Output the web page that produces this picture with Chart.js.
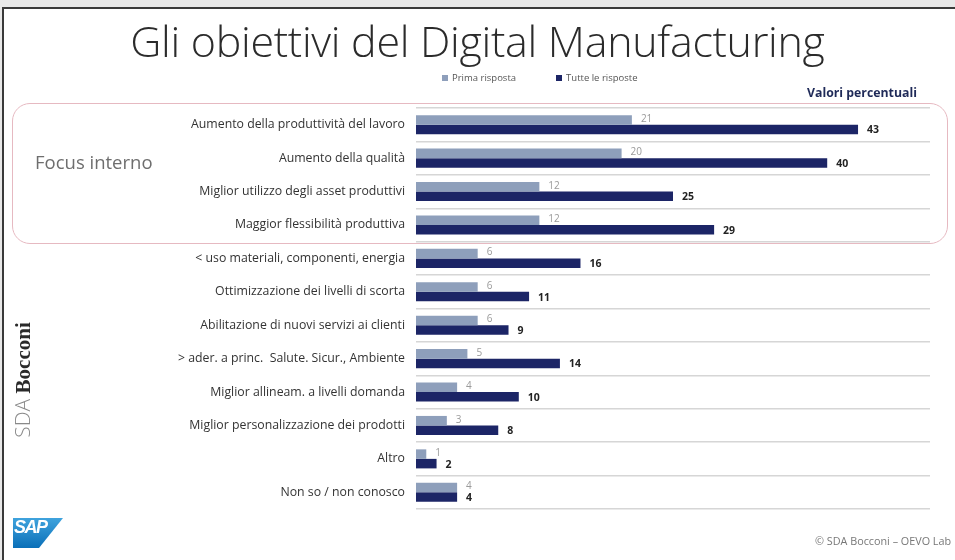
<!DOCTYPE html>
<html>
<head>
<meta charset="utf-8">
<script src="https://cdn.jsdelivr.net/npm/chart.js@4/dist/chart.umd.min.js"></script>
<style>
  html, body { margin: 0; padding: 0; }
  body { width: 955px; height: 560px; background: #e8e8e8; position: relative; overflow: hidden; font-family: 'Open Sans', sans-serif; }
  #frame { position: absolute; left: 2px; top: 7px; right: 0; bottom: 0; background: #fff; border-left: 2px solid #3a3a3a; border-top: 2px solid #3a3a3a; }
  #c { position: absolute; left: 0; top: 0; }
  .t { position: absolute; white-space: nowrap; }
  #title { left: 0; width: 955px; text-align: center; top: 12px; font-size: 43px; font-weight: 300; color: #2b2b2b; letter-spacing: -0.3px; line-height: 1.36; }
  #focusbox { position: absolute; left: 12px; top: 103px; width: 934px; height: 139px; border: 1.5px solid #e6b9c1; border-radius: 18px; }
  #focus { left: 35px; top: 149px; font-size: 18.5px; color: #6e6e6e; }
  #valori { left: 807px; top: 84px; font-size: 12.3px; font-weight: 700; color: #1f2a58; }
  #legend { left: 442px; top: 71px; font-size: 9.5px; color: #555; }
  #legend span.m { display: inline-block; width: 6px; height: 6px; margin-right: 4px; vertical-align: 0px; }
  #sda { left: 22px; top: 380px; transform: translate(-50%, -50%) rotate(-90deg); font-size: 21px; }
  #sda .a { color: #8a8a8a; font-family: 'Open Sans', sans-serif; font-weight: 300; }
  #sda .b { color: #2a2a2a; font-family: 'Liberation Serif', 'DejaVu Serif', serif; font-weight: 700; }
  #sap { position: absolute; left: 13px; top: 518px; width: 50px; height: 30px; background: linear-gradient(180deg, #3fa3dd 0%, #0a6fb8 100%); clip-path: polygon(0 0, 100% 0, 52% 100%, 0 100%); }
  #saptxt { left: 14px; top: 517px; font-family: 'Liberation Sans', Arial, sans-serif; font-weight: 700; font-size: 18px; color: #fff; letter-spacing: -1.5px; font-style: italic; }
  #copy { left: 815px; top: 533px; font-size: 10.8px; color: #777; }
</style>
</head>
<body>
<div id="frame"></div>
<canvas id="c" width="955" height="560"></canvas>
<div id="focusbox"></div>
<div class="t" id="title">Gli obiettivi del Digital Manufacturing</div>
<div class="t" id="legend"><span class="m" style="background:#8e9fbb"></span>Prima risposta<span style="display:inline-block;width:40px"></span><span class="m" style="background:#1c2566"></span>Tutte le risposte</div>
<div class="t" id="valori">Valori percentuali</div>
<div class="t" id="focus">Focus interno</div>
<div class="t" id="sda"><span class="a">SDA </span><span class="b">Bocconi</span></div>
<div id="sap"></div>
<div class="t" id="saptxt">SAP</div>
<div class="t" id="copy">© SDA Bocconi – OEVO Lab</div>
<script>
const categories = [
  'Aumento della produttività del lavoro',
  'Aumento della qualità',
  'Miglior utilizzo degli asset produttivi',
  'Maggior flessibilità produttiva',
  '< uso materiali, componenti, energia',
  'Ottimizzazione dei livelli di scorta',
  'Abilitazione di nuovi servizi ai clienti',
  '> ader. a princ.  Salute. Sicur., Ambiente',
  'Miglior allineam. a livelli domanda',
  'Miglior personalizzazione dei prodotti',
  'Altro',
  'Non so / non conosco'
];
const primaRisposta = [21, 20, 12, 12, 6, 6, 6, 5, 4, 3, 1, 4];
const tutteRisposte = [43, 40, 25, 29, 16, 11, 9, 14, 10, 8, 2, 4];
const seriesNames = ['Prima risposta', 'Tutte le risposte'];

const labelPlugin = {
  id: 'barLabels',
  afterDatasetsDraw(chart) {
    const ctx = chart.ctx;
    ctx.save();
    ctx.textBaseline = 'middle';
    ctx.textAlign = 'left';
    chart.data.datasets.forEach((ds, di) => {
      const meta = chart.getDatasetMeta(di);
      meta.data.forEach((bar, i) => {
        if (di === 0) {
          ctx.font = '10px "Open Sans", sans-serif';
          ctx.fillStyle = '#9a9a9a';
          ctx.fillText(String(ds.data[i]), bar.x + 9, bar.y - 1);
        } else {
          ctx.font = 'bold 10.5px "Open Sans", sans-serif';
          ctx.fillStyle = '#222';
          ctx.fillText(String(ds.data[i]), bar.x + 9, bar.y + 1);
        }
      });
    });
    ctx.restore();
  }
};

new Chart(document.getElementById('c'), {
  type: 'bar',
  data: {
    labels: categories,
    datasets: [
      { label: seriesNames[0], data: primaRisposta, backgroundColor: '#8e9fbb', barPercentage: 1, categoryPercentage: 0.57 },
      { label: seriesNames[1], data: tutteRisposte, backgroundColor: '#1c2566', barPercentage: 1, categoryPercentage: 0.57 }
    ]
  },
  options: {
    indexAxis: 'y',
    responsive: false,
    animation: false,
    layout: { padding: { left: 10, right: 25, top: 108, bottom: 51 } },
    plugins: { legend: { display: false }, tooltip: { enabled: false } },
    scales: {
      x: { display: false, min: 0, max: 50 },
      y: {
        afterFit(scale) { scale.width = 406; },
        grid: { offset: true, drawTicks: false, color: '#d6d6d6', lineWidth: 1.5 },
        border: { display: false },
        ticks: { padding: 11, color: '#333', font: { family: 'Open Sans', size: 12.3 } }
      }
    }
  },
  plugins: [labelPlugin]
});
</script>
</body>
</html>
